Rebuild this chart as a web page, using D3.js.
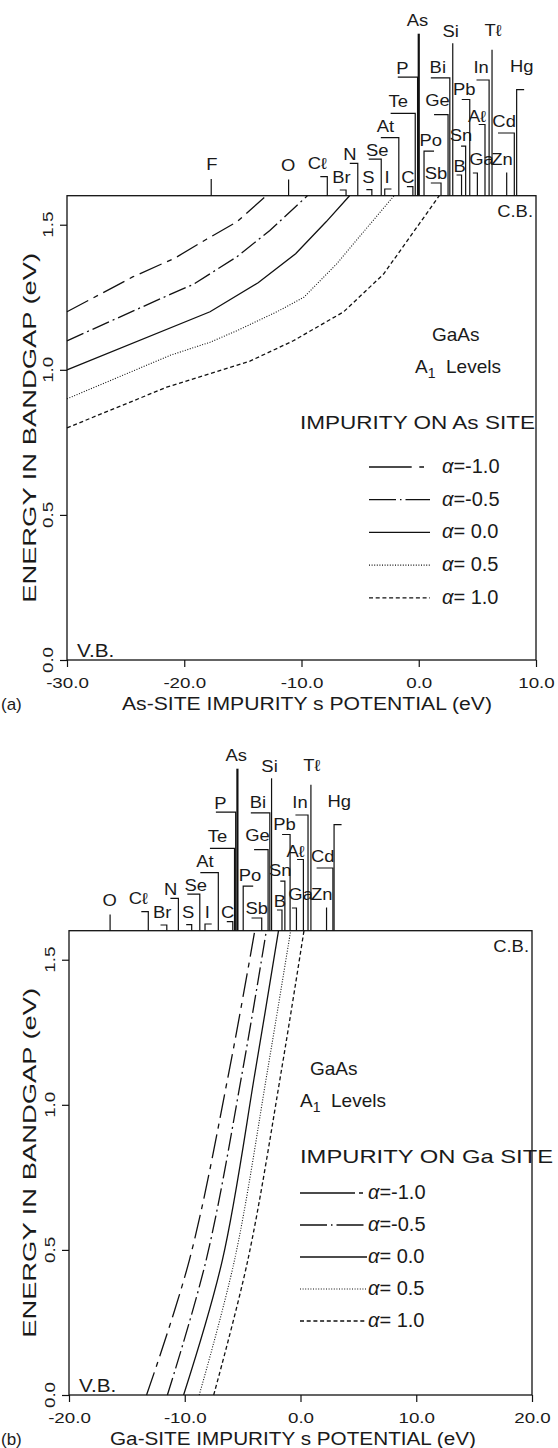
<!DOCTYPE html>
<html>
<head>
<meta charset="utf-8">
<script src="https://cdn.jsdelivr.net/npm/d3@7"></script>
<style>
body { margin: 0; background: #fff; }
svg text { font-family: "Liberation Sans", Arial, Helvetica, sans-serif; fill: #1a1a1a; }
</style>
</head>
<body>
<svg id="chart" width="558" height="1448"></svg>
<script>
// ---- data ----
const alphaLabels = ["=-1.0", "=-0.5", "=\u00a00.0", "=\u00a00.5", "=\u00a01.0"];
const energyTicks = [0.0, 0.5, 1.0, 1.5];
const asSiteTicks = [-30, -20, -10, 0, 10];
const gaSiteTicks = [-20, -10, 0, 10, 20];

// A1 levels, impurity on As site: [potential (eV), energy (eV)]
const asLevelM10 = [[-30, 1.20], [-24.4, 1.32], [-20.8, 1.385], [-18.1, 1.45], [-15.5, 1.51], [-13.0, 1.60]];
const asLevelM05 = [[-30, 1.10], [-21.2, 1.26], [-19.2, 1.295], [-15.5, 1.39], [-12.7, 1.48], [-9.5, 1.60]];
const asLevel00 = [[-30, 1.00], [-17.8, 1.20], [-13.7, 1.30], [-10.5, 1.40], [-7.9, 1.51], [-5.9, 1.60]];
const asLevel05 = [[-30, 0.90], [-21.2, 1.05], [-17.8, 1.095], [-15.5, 1.135], [-12.1, 1.20], [-9.8, 1.25], [-7.0, 1.365], [-4.2, 1.50], [-2.1, 1.60]];
const asLevel10 = [[-30, 0.80], [-21.5, 0.94], [-14.4, 1.03], [-10.7, 1.10], [-6.4, 1.20], [-3.0, 1.33], [-0.8, 1.455], [1.75, 1.60]];

// A1 levels, impurity on Ga site
const gaLevelM10 = [[-13.3, 0], [-9.6, 0.465], [-6.1, 1.13], [-3.95, 1.6]];
const gaLevelM05 = [[-11.5, 0], [-8.15, 0.465], [-4.95, 1.13], [-2.95, 1.6]];
const gaLevel00 = [[-10.1, 0], [-6.75, 0.465], [-3.85, 1.13], [-1.9, 1.6]];
const gaLevel05 = [[-8.75, 0], [-5.7, 0.465], [-2.8, 1.13], [-0.85, 1.6]];
const gaLevel10 = [[-7.5, 0], [-4.55, 0.465], [-1.6, 1.13], [0.3, 1.6]];

// impurity s potentials marked above each panel
const asSiteNames = ["F", "O", "Cℓ", "Br", "N", "S", "Se", "I", "At", "C", "Te", "P", "As", "Po", "Sb", "Ge", "Bi", "Si", "B", "Sn", "Pb", "Ga", "Aℓ", "In", "Tℓ", "Zn", "Cd", "Hg"];
const asSitePotentials = [-17.7, -11.1, -7.8, -6.2, -5.2, -4.0, -3.2, -2.9, -1.7, -0.5, -0.3, -0.1, 0.0, 0.45, 1.9, 2.5, 2.65, 2.9, 3.65, 4.0, 4.35, 5.0, 5.65, 6.0, 6.25, 7.5, 8.15, 8.35];
const gaSiteNames = ["O", "Cℓ", "Br", "N", "S", "Se", "I", "At", "C", "Te", "P", "As", "Po", "Sb", "Ge", "Bi", "Si", "B", "Sn", "Pb", "Ga", "Aℓ", "In", "Tℓ", "Zn", "Cd", "Hg"];
const gaSitePotentials = [-16.45, -13.15, -11.55, -10.55, -9.4, -8.7, -8.25, -7.1, -5.85, -5.7, -5.6, -5.45, -4.95, -3.35, -2.8, -2.65, -2.5, -1.6, -1.35, -0.9, -0.35, 0.25, 0.65, 0.9, 2.25, 2.8, 2.9];

// label leader layout (px): stem rise, arm dx, label dx, label rise
const labelLayout = {
    "F": [16.7, 0, 0.7, 25.7], "O": [16.2, 0, -0.5, 25], "Cℓ": [19, -7, -10, 27],
    "Br": [5.7, -6.3, -4.5, 12.7], "N": [32.4, -8, -7.8, 36.2], "S": [6, -5.5, -3.5, 12.7],
    "Se": [36.5, -12.5, -4, 39.3], "I": [6.7, 6.7, 2.3, 12.7], "At": [58, -18, -13.3, 63.5],
    "C": [9, -6, -5, 12.7], "Te": [82.4, -24.6, -17, 89], "P": [118.5, -19.8, -15.3, 121.5],
    "As": [162, 0, -1.2, 169.4], "Po": [44.5, 10, 6.8, 49.8], "Sb": [12.7, -10.2, -5, 17],
    "Ge": [81, -14, -10.5, 89.3], "Bi": [117.8, -19, -12, 123.2], "Si": [152.4, 0, -2, 159.2],
    "B": [20.7, -5, -2, 24], "Sn": [49.5, -4.6, -4.6, 54.8], "Pb": [96.2, -8, -5.5, 100.4],
    "Ga": [22.7, -4.5, 4.2, 30.7], "Aℓ": [71.2, -6.3, -7.8, 74], "In": [115.7, -12.6, -8, 123.2],
    "Tℓ": [146, 0, 1, 159.5], "Zn": [23.2, 0, -4.7, 30.7], "Cd": [62.7, -16.3, -10.2, 68.5],
    "Hg": [106, 7.5, 5.2, 123.5]
};

const curveDash = ["24,6,5,6", "18,4,2,4", null, "1,1.6", "4,2.7"];
const ink = "#111";

const svg = d3.select("#chart");

function stretch(sel, k) {
    sel.each(function() {
        const len = this.getComputedTextLength();
        d3.select(this).attr("textLength", len * k).attr("lengthAdjust", "spacingAndGlyphs");
    });
    return sel;
}

function drawPanel(p) {
    const g = svg.append("g");
    const x = d3.scaleLinear().domain(p.domain).range([p.left, p.right]);
    const y = d3.scaleLinear().domain([0, 1.6]).range([p.bottom, p.top]);

    // x axis
    const xg = g.append("g")
        .attr("transform", `translate(0,${p.bottom})`)
        .call(d3.axisBottom(x).tickValues(p.ticks).tickSize(7).tickFormat(d => d.toFixed(1)));
    xg.select(".domain").remove();
    xg.selectAll(".tick line").attr("stroke", ink).attr("stroke-width", 1.2);
    xg.selectAll(".tick text")
        .attr("y", 28).attr("dy", null)
        .attr("font-size", 15).attr("font-family", null).attr("fill", "#1a1a1a");
    stretch(xg.selectAll(".tick text"), 1.25);

    // y axis
    const yg = g.append("g")
        .attr("transform", `translate(${p.left},0)`)
        .call(d3.axisLeft(y).tickValues(energyTicks).tickSize(7).tickFormat(""));
    yg.select(".domain").remove();
    yg.selectAll(".tick line").attr("stroke", ink).attr("stroke-width", 1.2);
    const ylab = g.selectAll(".ylab").data(energyTicks).join("text")
        .attr("class", "ylab")
        .attr("transform", d => `translate(${p.left - 14},${y(d)}) rotate(-90)`)
        .attr("text-anchor", "middle")
        .attr("font-size", 15)
        .text(d => d.toFixed(1));
    stretch(ylab, 1.25);

    // frame
    g.append("rect")
        .attr("x", p.left).attr("y", p.top)
        .attr("width", p.right - p.left).attr("height", p.bottom - p.top)
        .attr("fill", "none").attr("stroke", ink).attr("stroke-width", 1.3);

    // level curves
    const line = d3.line().x(d => x(d[0])).y(d => y(d[1])).curve(p.curve);
    g.selectAll(".level").data(p.levels).join("path")
        .attr("class", "level")
        .attr("d", line)
        .attr("fill", "none")
        .attr("stroke", ink)
        .attr("stroke-width", (d, i) => i === 3 ? 1.1 : 1.3)
        .attr("stroke-dasharray", (d, i) => curveDash[i]);

    // impurity markers above the frame
    const marks = g.selectAll(".imp").data(p.names).join("g").attr("class", "imp");
    marks.append("path")
        .attr("d", (d, i) => {
            const sx = x(p.potentials[i]);
            const L = labelLayout[d];
            let s = `M${sx},${p.top}V${p.top - L[0]}`;
            if (L[1] !== 0) s += `H${sx + L[1]}`;
            return s;
        })
        .attr("fill", "none").attr("stroke", ink)
        .attr("stroke-width", d => d === "As" ? 2.2 : 1.2);
    const names = marks.append("text")
        .attr("x", (d, i) => x(p.potentials[i]) + labelLayout[d][2])
        .attr("y", d => p.top - labelLayout[d][3])
        .attr("text-anchor", "middle")
        .attr("font-size", 16)
        .text(d => d);
    stretch(names, 1.15);

    // texts inside the frame
    stretch(g.append("text").attr("x", p.right - 3).attr("y", p.top + 21)
        .attr("text-anchor", "end").attr("font-size", 16).text("C.B."), 1.15);
    stretch(g.append("text").attr("x", p.left + 10).attr("y", p.bottom - 3)
        .attr("font-size", 18).text("V.B."), 1.15);
    g.append("text").attr("x", p.gaasX).attr("y", p.gaasY)
        .attr("font-size", 19).text("GaAs");
    const lv = g.append("text").attr("x", p.levelsX).attr("y", p.gaasY + 32).attr("font-size", 19);
    lv.append("tspan").text("A");
    lv.append("tspan").attr("font-size", 14).attr("dy", 5).text("1");
    lv.append("tspan").attr("dy", -5).text("\u00a0\u00a0Levels");
    g.append("text").attr("x", p.siteX).attr("y", p.gaasY + 88)
        .attr("font-size", 19).attr("textLength", p.siteLen).attr("lengthAdjust", "spacingAndGlyphs")
        .text(p.siteText);

    // legend
    const lg = g.selectAll(".leg").data(alphaLabels).join("g").attr("class", "leg")
        .attr("transform", (d, i) => `translate(0,${p.legendY + i * p.legendStep})`);
    lg.append("line")
        .attr("x1", p.legendX0).attr("x2", p.legendX1)
        .attr("y1", -6).attr("y2", -6)
        .attr("stroke", ink)
        .attr("stroke-width", (d, i) => i === 3 ? 1.1 : 1.3)
        .attr("stroke-dasharray", (d, i) => p.legendDash[i]);
    const lt = lg.append("text").attr("x", p.legendTextX).attr("y", 0).attr("font-size", 20);
    lt.append("tspan").attr("font-style", "italic").text("α");
    lt.append("tspan").text(d => d);

    // axis titles
    g.append("text")
        .attr("transform", `translate(36,${(p.top + p.bottom) / 2}) rotate(-90)`)
        .attr("text-anchor", "middle").attr("font-size", 18)
        .attr("textLength", 350).attr("lengthAdjust", "spacingAndGlyphs")
        .text("ENERGY IN BANDGAP (eV)");
    g.append("text").attr("x", p.titleX).attr("y", p.bottom + 50)
        .attr("font-size", 18).attr("textLength", p.titleLen).attr("lengthAdjust", "spacingAndGlyphs")
        .text(p.title);
    g.append("text").attr("x", p.tagX).attr("y", p.bottom + 50)
        .attr("font-size", 17).text(p.tag);
}

drawPanel({
    domain: [-30, 10], ticks: asSiteTicks,
    left: 67, right: 536, top: 195.7, bottom: 660,
    levels: [asLevelM10, asLevelM05, asLevel00, asLevel05, asLevel10],
    curve: d3.curveLinear,
    names: asSiteNames, potentials: asSitePotentials,
    gaasX: 432, gaasY: 341, levelsX: 415,
    siteX: 300, siteLen: 235, siteText: "IMPURITY ON As SITE",
    legendY: 473, legendStep: 32.7, legendX0: 369, legendX1: 430, legendTextX: 442,
    legendDash: ["42.7,7.6,4.7,200", "27,4,1.5,4", null, "1,1.6", "4,2.7"],
    title: "As-SITE IMPURITY s POTENTIAL (eV)", titleX: 122, titleLen: 370,
    tag: "(a)", tagX: 1
});

drawPanel({
    domain: [-20, 20], ticks: gaSiteTicks,
    left: 69, right: 532, top: 930.7, bottom: 1395,
    levels: [gaLevelM10, gaLevelM05, gaLevel00, gaLevel05, gaLevel10],
    curve: d3.curveCatmullRom,
    names: gaSiteNames, potentials: gaSitePotentials,
    gaasX: 310, gaasY: 1075, levelsX: 300,
    siteX: 300, siteLen: 253, siteText: "IMPURITY ON Ga SITE",
    legendY: 1199, legendStep: 32, legendX0: 300, legendX1: 367, legendTextX: 368,
    legendDash: ["55,4,4,200", "27,4,1.5,4", null, "1,1.6", "4,2.7"],
    title: "Ga-SITE IMPURITY s POTENTIAL (eV)", titleX: 110, titleLen: 366,
    tag: "(b)", tagX: 1
});
</script>
</body>
</html>
